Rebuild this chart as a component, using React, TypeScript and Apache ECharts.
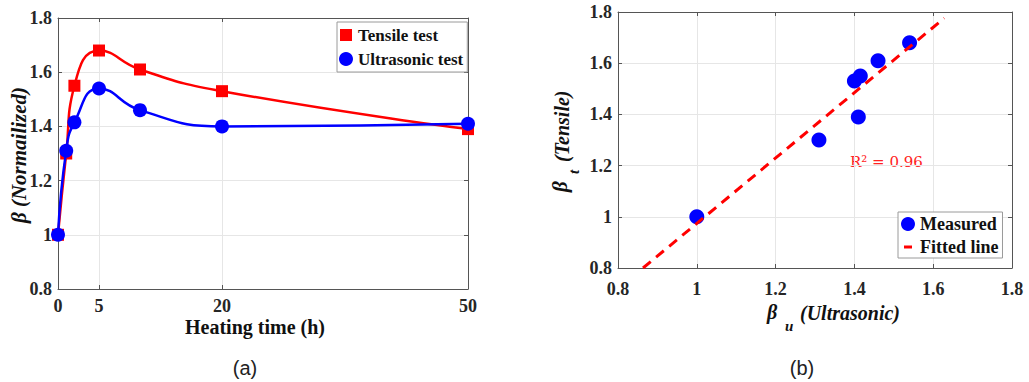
import React, { useEffect, useRef } from "react";
import * as echarts from "echarts";

// ---- data ----
const heatingTime = [0, 1, 2, 5, 10, 20, 50];
const tensile = [1.0, 1.3, 1.55, 1.68, 1.61, 1.53, 1.39];
const ultrasonic = [1.0, 1.31, 1.415, 1.54, 1.46, 1.4, 1.41];
const timeTicks = [0, 5, 20, 50];
const fitU = [0.8635, 1.628];
const fitT = [0.8, 1.776];
const r2Text = "R\u00B2 = 0.96";

const SERIF = "'Liberation Serif', 'Times New Roman', serif";
const RED = "#ff0000";
const BLUE = "#0000ff";
const AXIS = "#555555";
const GRIDC = "#e6e6e6";
const LABEL = "#262626";

const tickLabel = {
  fontFamily: SERIF,
  fontWeight: "bold" as const,
  fontSize: 18,
  color: LABEL,
};

function baseAxis(gridIndex: number, min: number, max: number, extra: any = {}) {
  return {
    type: "value",
    gridIndex,
    min,
    max,
    axisLine: { show: true, onZero: false, lineStyle: { color: AXIS, width: 1 } },
    axisTick: { show: true, inside: true, length: 4, lineStyle: { color: AXIS } },
    splitLine: { show: true, lineStyle: { color: GRIDC, width: 1 } },
    axisLabel: { ...tickLabel },
    ...extra,
  };
}

export default function App() {
  const ref = useRef<HTMLDivElement>(null);
  useEffect(() => {
    const chart = echarts.init(ref.current!, undefined, { renderer: "svg" });
    const titleFont = (size: number, italic = false) =>
      `${italic ? "italic " : ""}bold ${size}px ${SERIF}`;

    const option: any = {
      animation: false,
      backgroundColor: "#ffffff",
      grid: [
        { left: 58, top: 18, width: 410, height: 271, outerBoundsMode: "none" },
        { left: 618, top: 12, width: 394, height: 256, outerBoundsMode: "none" },
      ],
      xAxis: [
        baseAxis(0, 0, 50, {
          position: "bottom",
          axisTick: { show: true, inside: true, length: 4, lineStyle: { color: AXIS }, customValues: timeTicks },
          axisLabel: { ...tickLabel, margin: 8, customValues: timeTicks },
        }),
        baseAxis(0, 0, 50, {
          position: "top",
          axisTick: { show: true, inside: true, length: 4, lineStyle: { color: AXIS }, customValues: timeTicks },
          axisLabel: { show: false },
          splitLine: { show: false },
        }),
        baseAxis(1, 0.8, 1.8, { interval: 0.2, position: "bottom", axisLabel: { ...tickLabel, margin: 12 } }),
        baseAxis(1, 0.8, 1.8, { interval: 0.2, position: "top", axisLabel: { show: false }, splitLine: { show: false } }),
      ],
      yAxis: [
        baseAxis(0, 0.8, 1.8, { interval: 0.2, position: "left", axisLabel: { ...tickLabel, margin: 6 } }),
        baseAxis(0, 0.8, 1.8, { interval: 0.2, position: "right", axisLabel: { show: false }, splitLine: { show: false } }),
        baseAxis(1, 0.8, 1.8, { interval: 0.2, position: "left", axisLabel: { ...tickLabel, margin: 6 } }),
        baseAxis(1, 0.8, 1.8, { interval: 0.2, position: "right", axisLabel: { show: false }, splitLine: { show: false } }),
      ],
      legend: [
        {
          orient: "vertical",
          left: 337,
          top: 22,
          itemWidth: 14,
          itemHeight: 14,
          itemGap: 4,
          padding: [3, 4, 3, 2],
          borderColor: "#9a9a9a",
          borderWidth: 1,
          backgroundColor: "#ffffff",
          itemStyle: { borderWidth: 0 },
          textStyle: { fontFamily: SERIF, fontWeight: "bold", fontSize: 17, color: "#111", lineHeight: 20 },
          data: [
            { name: "Tensile test", icon: "path://M0,0M14,14M1,1h12v12h-12z" },
            { name: "Ultrasonic test", icon: "circle" },
          ],
        },
        {
          orient: "vertical",
          left: 898,
          top: 212,
          itemWidth: 14,
          itemHeight: 14,
          itemGap: 3,
          padding: [2, 4, 1, 3],
          borderColor: "#9a9a9a",
          borderWidth: 1,
          backgroundColor: "#ffffff",
          itemStyle: { borderWidth: 0 },
          textStyle: { fontFamily: SERIF, fontWeight: "bold", fontSize: 18, color: "#111", lineHeight: 20 },
          data: [
            { name: "Measured", icon: "circle" },
            { name: "Fitted line", icon: "path://M0,0M14,14M3,5.5h8v3h-8z" },
          ],
        },
      ],
      series: [
        {
          name: "Tensile test",
          type: "line",
          xAxisIndex: 0,
          yAxisIndex: 0,
          data: heatingTime.map((t, i) => [t, tensile[i]]),
          smooth: 0.5,
          symbol: "rect",
          symbolSize: 12,
          color: RED,
          itemStyle: { color: RED, opacity: 1 },
          lineStyle: { color: RED, width: 2.5 },
          z: 3,
        },
        {
          name: "Ultrasonic test",
          type: "line",
          xAxisIndex: 0,
          yAxisIndex: 0,
          data: heatingTime.map((t, i) => [t, ultrasonic[i]]),
          smooth: 0.5,
          symbol: "circle",
          symbolSize: 14,
          color: BLUE,
          itemStyle: { color: BLUE, opacity: 1 },
          lineStyle: { color: BLUE, width: 2.5 },
          z: 4,
        },
        {
          name: "Measured",
          type: "scatter",
          xAxisIndex: 2,
          yAxisIndex: 2,
          data: ultrasonic.map((u, i) => [u, tensile[i]]),
          symbol: "circle",
          symbolSize: 15,
          color: BLUE,
          itemStyle: { color: BLUE, opacity: 1 },
          z: 3,
        },
        {
          name: "Fitted line",
          type: "line",
          xAxisIndex: 2,
          yAxisIndex: 2,
          data: fitU.map((u, i) => [u, fitT[i]]),
          symbol: "none",
          color: RED,
          lineStyle: { color: RED, width: 3, type: [10, 7] },
          z: 5,
        },
      ],
      graphic: [
        // left panel axis titles
        {
          type: "text",
          x: 255,
          y: 327,
          style: { text: "Heating time (h)", font: titleFont(20), fill: "#111", align: "center", verticalAlign: "middle" },
        },
        {
          type: "group",
          x: 19,
          y: 155,
          rotation: Math.PI / 2,
          children: [
            {
              type: "text",
              x: 0,
              y: 0,
              style: { text: "\u03B2 (Normailized)", font: titleFont(21, true), fill: "#111", align: "center", verticalAlign: "middle" },
            },
          ],
        },
        // right panel x title
        {
          type: "text",
          x: 767,
          y: 312,
          style: { text: "\u03B2", font: titleFont(20, true), fill: "#111", align: "left", verticalAlign: "middle" },
        },
        {
          type: "text",
          x: 785,
          y: 326,
          style: { text: "u", font: titleFont(15, true), fill: "#111", align: "left", verticalAlign: "middle" },
        },
        {
          type: "text",
          x: 800,
          y: 313,
          style: { text: "(Ultrasonic)", font: titleFont(20, true), fill: "#111", align: "left", verticalAlign: "middle" },
        },
        // right panel y title
        {
          type: "group",
          x: 562,
          y: 192,
          rotation: Math.PI / 2,
          children: [
            { type: "text", x: 0, y: -2, style: { text: "\u03B2", font: titleFont(21, true), fill: "#111", align: "left", verticalAlign: "middle" } },
            { type: "text", x: 18, y: 12, style: { text: "t", font: titleFont(15, true), fill: "#111", align: "left", verticalAlign: "middle" } },
            { type: "text", x: 30, y: 0, style: { text: "(Tensile)", font: titleFont(20, true), fill: "#111", align: "left", verticalAlign: "middle" } },
          ],
        },
        // R^2 annotation
        {
          type: "text",
          x: 850,
          y: 162,
          style: { text: r2Text, font: `15px 'DejaVu Serif', serif`, fill: "#ff2222", align: "left", verticalAlign: "middle" },
        },
        // panel captions
        {
          type: "text",
          x: 245,
          y: 368,
          style: { text: "(a)", font: `20px 'Liberation Sans', Arial, sans-serif`, fill: "#222", align: "center", verticalAlign: "middle" },
        },
        {
          type: "text",
          x: 802,
          y: 368,
          style: { text: "(b)", font: `20px 'Liberation Sans', Arial, sans-serif`, fill: "#222", align: "center", verticalAlign: "middle" },
        },
      ],
    };
    chart.setOption(option);
    return () => chart.dispose();
  }, []);
  return (
    <div
      ref={ref}
      style={{ position: "absolute", left: 0, top: 0, width: 1029, height: 382, background: "#fff" }}
    />
  );
}
